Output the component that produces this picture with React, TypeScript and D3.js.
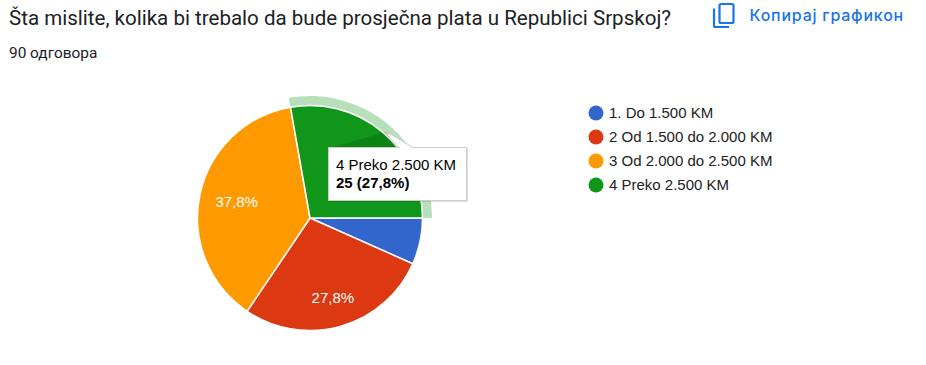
import React from "react";
import * as d3 from "d3";

const categories = ["1. Do 1.500 KM", "2 Od 1.500 do 2.000 KM", "3 Od 2.000 do 2.500 KM", "4 Preko 2.500 KM"];
const counts = [6, 25, 34, 25];
const colors = ["#3366cc", "#dc3912", "#ff9900", "#109618"];
const sliceLabels = ["", "27,8%", "37,8%", ""];
const title = "Šta mislite, kolika bi trebalo da bude prosječna plata u Republici Srpskoj?";
const subtitle = "90 одговора";
const copyLabel = "Копирај графикон";
const tooltipTitle = "4 Preko 2.500 KM";
const tooltipValue = "25 (27,8%)";

const cx = 310;
const cy = 218;
const R = 112.5;
const labelRadii = [0, 83, 75, 0];
const sans = "Roboto, Arial, sans-serif";
const chartFont = "Liberation Sans, Arial, sans-serif";

export default function App() {
  const pie = d3.pie<number>().sort(null).startAngle(Math.PI / 2).endAngle(Math.PI * 2.5);
  const arcs = pie(counts);
  const arc = d3.arc<d3.PieArcDatum<number>>().innerRadius(0).outerRadius(R);
  const ring = d3.arc<d3.PieArcDatum<number>>().innerRadius(R + 0.5).outerRadius(R + 9.5);
  return (
    <svg width={926} height={365} style={{ position: "absolute", left: 0, top: 0, background: "#fff" }}>
      <text x={9} y={25} fontFamily={sans} fontSize={20.55} fill="#202124">{title}</text>
      <text x={9} y={58} fontFamily={sans} fontSize={15.4} fill="#202124">{subtitle}</text>

      <g fill="none" stroke="#1a73e8" strokeWidth={2.2}>
        <rect x={719.5} y={4} width={14} height={19} rx={1.5} />
        <path d="M714 8.5 V25.5 Q714 27 715.5 27 H729" />
      </g>
      <text x={749.5} y={21} fontFamily="Inter, Roboto, sans-serif" fontSize={16} fontWeight={500} letterSpacing={0.78} fill="#1a73e8">{copyLabel}</text>

      <g transform={`translate(${cx},${cy})`}>
        <path d={ring(arcs[3]) ?? ""} fill="#109618" fillOpacity={0.3} />
        {arcs.map((a, i) => (
          <path key={i} d={arc(a) ?? ""} fill={colors[i]} stroke="#fff" strokeWidth={1.5} />
        ))}
        {arcs.map((a, i) => {
          if (!sliceLabels[i]) return null;
          const [lx, ly] = d3.arc<d3.PieArcDatum<number>>().innerRadius(labelRadii[i]).outerRadius(labelRadii[i]).centroid(a);
          return (
            <text key={i} x={lx} y={ly + 5} fontFamily={chartFont} fontSize={15} fill="#fff" textAnchor="middle">{sliceLabels[i]}</text>
          );
        })}
      </g>

      {categories.map((c, i) => (
        <g key={c}>
          <circle cx={596} cy={113 + i * 24} r={7.5} fill={colors[i]} />
          <text x={609} y={118 + i * 24} fontFamily={chartFont} fontSize={15} fill="#222">{c}</text>
        </g>
      ))}

      <g>
        <path d="M385 131 L413 147 H467 V201 H328 V147 Z" fill="#000" fillOpacity={0.12} transform="translate(1,1)" />
        <path d="M387 132 L413 147.5 H466.5 V200.5 H328.5 V147.5 H400 Z" fill="#fff" stroke="#ccc" strokeWidth={1} />
        <path d="M386 133 L411 148.5 H400 Z" fill="#fff" />
        <text x={336} y={170} fontFamily={chartFont} fontSize={15} fill="#000">{tooltipTitle}</text>
        <text x={336} y={188} fontFamily={chartFont} fontSize={15} fontWeight={700} fill="#000">{tooltipValue}</text>
      </g>
    </svg>
  );
}
